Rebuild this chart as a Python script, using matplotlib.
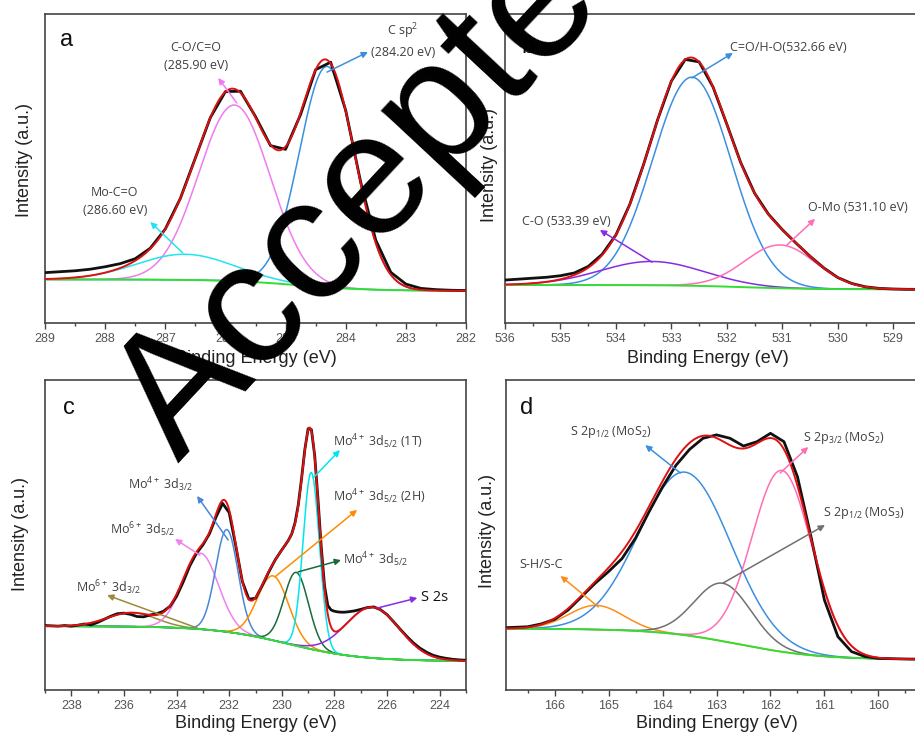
import numpy as np
import matplotlib.pyplot as plt
from matplotlib.ticker import MultipleLocator

plt.rcParams['font.family'] = ['Liberation Sans', 'DejaVu Sans']
plt.rcParams['mathtext.fontset'] = 'custom'
plt.rcParams['mathtext.rm'] = 'Open Sans'
plt.rcParams['mathtext.it'] = 'Open Sans:italic'
plt.rcParams['mathtext.bf'] = 'Open Sans:bold'

# ---- panel a : C 1s ----
A_CENTER = [285.85, 284.31, 286.67]      # C-O/C=O, C sp2, Mo-C=O
A_HEIGHT = [57.0, 71.5, 8.3]
A_FWHM = [1.40, 1.08, 1.90]
A_COLORS = ['#f07af0', '#3b8fe0', '#22e4ee']
A_BG = [14.1, 10.4, 284.8, 0.6]          # left level, right level, step centre, step width
A_RAW_E = np.arange(289, 281.99, -0.25)
A_RAW_I = [16.3, 16.6, 16.9, 17.4, 18.2, 19.2, 20.8, 24.2, 30.4, 40.3, 53.4, 66.5,
           74.9, 75.0, 66.8, 57.4, 56.2, 67.5, 82.0, 84.4, 68.8, 45.5, 26.8, 16.4,
           12.6, 11.2, 10.8, 10.6, 10.5]

# ---- panel b : O 1s ----
B_CENTER = [532.63, 533.35, 531.04]      # C=O/H-O, C-O, O-Mo
B_HEIGHT = [67.5, 7.7, 14.0]
B_FWHM = [1.66, 2.2, 1.5]
B_COLORS = ['#3b8fe0', '#8a2be2', '#ff6eb4']
B_BG = [12.3, 10.9, 531.7, 0.6]
B_RAW_E = np.arange(536, 528.4, -0.25)
B_RAW_I = [13.9, 14.2, 14.5, 14.8, 15.3, 16.2, 18.3, 22.2, 28.5, 38.4, 51.4, 65.7,
           78.3, 85.3, 84.5, 76.4, 64.3, 51.9, 42.0, 35.2, 30.2, 25.8, 21.6, 17.8,
           14.7, 12.8, 11.7, 11.2, 11.0, 10.9, 10.9]

# ---- panel c : Mo 3d ----
C_CENTER = [235.7, 233.09, 232.09, 230.33, 229.45, 228.88, 226.55]
C_HEIGHT = [4.5, 24.5, 33.0, 20.8, 23.7, 57.0, 16.4]
C_FWHM = [2.2, 1.6, 1.0, 1.4, 1.1, 0.73, 2.4]
C_COLORS = ['#9c8a3a', '#ee82ee', '#4a86d8', '#ff8c00', '#1a6b3c', '#00e5ee', '#8a2be2']
C_BG = [20.6, 9.3, 229.8, 1.4]
C_RAW_E = np.concatenate([np.arange(239, 230.1, -0.25),
                          np.arange(230, 227.6, -0.125),
                          np.arange(227.5, 222.9, -0.25)])
C_RAW_I = [20.8, 20.7, 20.6, 20.8, 20.6, 20.9, 21.3, 21.0, 21.8, 22.8, 23.8, 24.6,
           24.8, 24.4, 23.7, 23.6, 24.2, 24.6, 25.4, 27.0, 30.2, 34.8, 40.0, 44.0,
           46.8, 50.4, 55.8, 60.2, 57.2, 46.5, 35.0, 29.3, 29.6, 33.6, 38.0, 42.0,
           45.2, 46.7, 48.3, 50.3, 53.9, 59.7, 68.2, 77.6, 84.3, 84.0, 75.6, 61.5,
           46.0, 33.5, 27.2, 25.8, 25.4, 25.2, 25.1, 25.1,
           25.2, 25.5, 26.0, 26.6, 26.8, 25.9, 24.3, 22.0, 19.6, 17.3, 15.2, 13.5,
           12.2, 11.2, 10.6, 10.2, 9.9, 9.7, 9.6]

# ---- panel d : S 2p ----
D_CENTER = [165.23, 163.58, 162.88, 161.79]  # S-H/S-C, S2p1/2 MoS2, S2p1/2 MoS3, S2p3/2 MoS2
D_HEIGHT = [7.8, 52.6, 18.7, 58.5]
D_FWHM = [1.2, 2.0, 1.24, 1.3]
D_COLORS = ['#ff8c1a', '#3b8fe0', '#707070', '#ff6eb4']
D_BG = [19.8, 9.8, 162.6, 0.75]
D_RAW_E = [166.9, 166.5, 166.25, 166, 165.75, 165.5, 165.25, 165, 164.75, 164.5, 164.25,
           164, 163.75, 163.5, 163.25, 163, 162.75, 162.5, 162.25, 162, 161.75, 161.5,
           161.25, 161, 160.75, 160.5, 160.25, 160, 159.5, 159.1]
D_RAW_I = [20.1, 20.4, 21.3, 22.8, 25.8, 30.1, 34.4, 38.2, 42.4, 49.0, 57.5,
           65.5, 72.5, 77.6, 81.2, 82.3, 81.2, 78.7, 80.1, 82.8, 80.1, 68.8,
           49.5, 29.0, 17.2, 12.4, 10.8, 10.2, 10.0, 9.9]

TXT = '#404040'


def gauss(x, c, h, w):
    return h * np.exp(-4 * np.log(2) * (x - c) ** 2 / w ** 2)


def background(x, left, right, c, s):
    return right + (left - right) / (1 + np.exp(-(x - c) / s))


def envelope(x, centers, heights, fwhms, bg):
    tot = background(x, *bg)
    for c, h, w in zip(centers, heights, fwhms):
        tot = tot + gauss(x, c, h, w)
    return tot


def make_axes(fig, left, top, w, h):
    return fig.add_axes([left / 915, 1 - (top + h) / 735, w / 915, h / 735])


def style(ax, xlim, major, minor, ylab_x, ylab_y, xlab_x, xlab_y):
    ax.set_xlim(*xlim)
    ax.set_ylim(0, 100)
    ax.xaxis.set_major_locator(MultipleLocator(major))
    ax.xaxis.set_minor_locator(MultipleLocator(minor))
    ax.set_yticks([])
    ax.tick_params(axis='x', which='major', direction='out', length=4.5, width=1,
                   color='#444', labelsize=9, labelcolor='#555', pad=3)
    ax.tick_params(axis='x', which='minor', direction='out', length=2.5, width=1, color='#444')
    for s in ax.spines.values():
        s.set_color('#444')
        s.set_linewidth(1.2)
    ax.set_xlabel('Binding Energy (eV)', fontsize=13, color='#222')
    ax.set_ylabel('Intensity (a.u.)', fontsize=13, color='#222')
    ax.yaxis.set_label_coords(ylab_x, ylab_y)
    ax.xaxis.set_label_coords(xlab_x, xlab_y)


def draw(ax, xlim, centers, heights, fwhms, colors, bg, raw_e, raw_i):
    x = np.linspace(xlim[0], xlim[1], 900)
    base = background(x, *bg)
    for c, h, w, col in zip(centers, heights, fwhms, colors):
        ax.plot(x, base + gauss(x, c, h, w), color=col, lw=1.1, zorder=2)
    ax.plot(x, base, color='#33dd33', lw=1.4, zorder=3)
    ax.plot(raw_e, raw_i, color='#111111', lw=2.0, zorder=4)
    ax.plot(x, envelope(x, centers, heights, fwhms, bg), color='#e01010', lw=1.4, zorder=5)


def note(ax, text, txy, tail, head, color, ha='center', size=9, tcolor=TXT):
    ax.text(txy[0], txy[1], text, ha=ha, va='center', fontsize=size, color=tcolor,
            family='Open Sans', linespacing=1.5, zorder=6)
    ax.annotate('', xy=head, xytext=tail,
                arrowprops=dict(arrowstyle='-|>', color=color, lw=1.1,
                                mutation_scale=9, shrinkA=0, shrinkB=0), zorder=6)


fig = plt.figure(figsize=(9.15, 7.35), dpi=100)

# panel a
ax = make_axes(fig, 45, 14, 421, 309)
draw(ax, (289, 282), A_CENTER, A_HEIGHT, A_FWHM, A_COLORS, A_BG, A_RAW_E, A_RAW_I)
style(ax, (289, 282), 1, 0.5, -0.028, 0.527, 0.5, -0.087)
ax.text(0.036, 0.915, 'a', transform=ax.transAxes, fontsize=17, color='#111', va='center')
note(ax, 'C-O/C=O\n(285.90 eV)', (286.49, 86.1), (285.81, 71.2), (286.12, 79.3), A_COLORS[0])
note(ax, 'C sp$^2$\n(284.20 eV)', (283.05, 91.5), (284.31, 81.2), (283.63, 87.7), A_COLORS[1])
note(ax, 'Mo-C=O\n(286.60 eV)', (287.84, 39.2), (286.71, 22.7), (287.25, 32.7), A_COLORS[2])

# panel b
ax = make_axes(fig, 505, 14, 421, 309)
draw(ax, (536, 528.41), B_CENTER, B_HEIGHT, B_FWHM, B_COLORS, B_BG, B_RAW_E, B_RAW_I)
style(ax, (536, 528.41), 1, 0.5, -0.017, 0.511, 0.482, -0.087)
ax.text(0.055, 0.893, 'b', transform=ax.transAxes, fontsize=17, color='#111', va='center', ha='center')
note(ax, 'C=O/H-O(532.66 eV)', (530.90, 89.3), (532.63, 79.3), (531.89, 87.4), B_COLORS[0])
note(ax, 'C-O (533.39 eV)', (534.90, 33.0), (533.35, 19.7), (534.29, 30.1), B_COLORS[1])
note(ax, 'O-Mo (531.10 eV)', (529.64, 37.5), (530.92, 25.2), (530.41, 33.7), B_COLORS[2])

# panel c
ax = make_axes(fig, 45, 380, 421, 310)
draw(ax, (239, 223), C_CENTER, C_HEIGHT, C_FWHM, C_COLORS, C_BG, C_RAW_E, C_RAW_I)
style(ax, (239, 223), 2, 1, -0.038, 0.503, 0.5, -0.081)
ax.text(0.043, 0.91, 'c', transform=ax.transAxes, fontsize=17, color='#111', va='center')
note(ax, 'Mo$^{6+}$ 3d$_{3/2}$', (237.82, 32.9), (233.22, 20.0), (236.64, 30.6), C_COLORS[0], ha='left')
note(ax, 'Mo$^{6+}$ 3d$_{5/2}$', (236.53, 51.6), (233.11, 43.5), (234.06, 48.7), C_COLORS[1], ha='left')
note(ax, 'Mo$^{4+}$ 3d$_{3/2}$', (235.85, 66.1), (232.04, 48.4), (233.22, 62.6), C_COLORS[2], ha='left')
note(ax, 'Mo$^{4+}$ 3d$_{5/2}$ (2H)', (228.05, 62.3), (230.26, 36.5), (227.14, 58.1), C_COLORS[3], ha='left')
note(ax, 'Mo$^{4+}$ 3d$_{5/2}$', (227.68, 41.9), (229.38, 38.1), (227.75, 41.9), C_COLORS[4], ha='left')
note(ax, 'Mo$^{4+}$ 3d$_{5/2}$ (1T)', (228.05, 80.0), (228.81, 68.4), (227.79, 77.4), C_COLORS[5], ha='left')
note(ax, 'S 2s', (224.71, 29.7), (226.34, 26.5), (224.85, 29.7), C_COLORS[6], ha='left',
     size=10.5, tcolor='#111')

# panel d
ax = make_axes(fig, 506, 380, 421, 310)
draw(ax, (166.9, 159.1), D_CENTER, D_HEIGHT, D_FWHM, D_COLORS, D_BG, D_RAW_E, D_RAW_I)
style(ax, (166.9, 159.1), 1, 0.5, -0.023, 0.513, 0.5, -0.081)
ax.text(0.034, 0.91, 'd', transform=ax.transAxes, fontsize=17, color='#111', va='center')
note(ax, 'S-H/S-C', (166.65, 40.6), (165.19, 26.8), (165.89, 36.8), D_COLORS[0], ha='left')
note(ax, 'S 2p$_{1/2}$ (MoS$_2$)', (165.71, 83.2), (163.67, 70.0), (164.32, 79.0), D_COLORS[1], ha='left')
note(ax, 'S 2p$_{1/2}$ (MoS$_3$)', (161.03, 57.1), (162.88, 34.5), (160.99, 53.2), D_COLORS[2], ha='left')
note(ax, 'S 2p$_{3/2}$ (MoS$_2$)', (161.40, 81.3), (161.82, 70.0), (161.30, 78.4), D_COLORS[3], ha='left')

# watermark
fig.text(178 / 915, 1 - 463 / 735, 'Accepted', fontsize=125, family='Liberation Sans',
         rotation=47, rotation_mode='anchor', ha='left', va='baseline', color='black', zorder=20)

fig.savefig('out.png', dpi=100)
